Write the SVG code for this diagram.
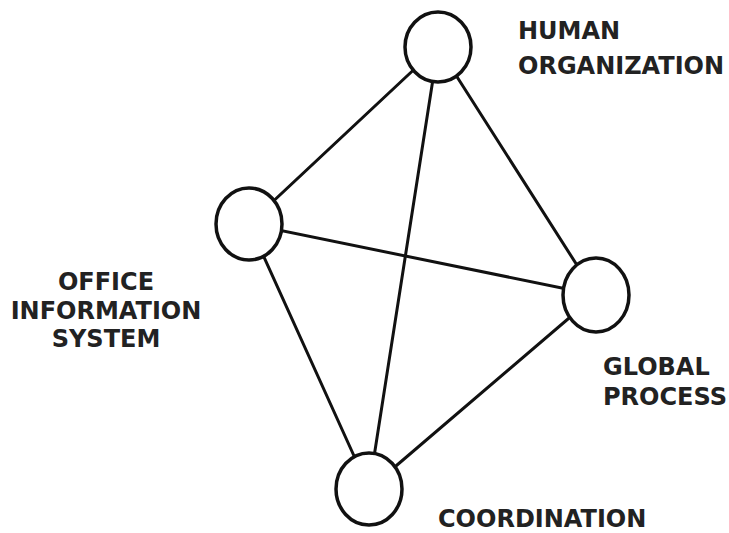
<svg xmlns="http://www.w3.org/2000/svg" width="729" height="533" viewBox="0 0 729 533">
<style>
.bg{fill:#ffffff}
.edge{stroke:#111;stroke-width:3;stroke-linecap:round;fill:none}
.node{fill:#ffffff;stroke:#111;stroke-width:3.5}
.lbl{font-family:"DejaVu Sans","Liberation Sans",sans-serif;font-weight:bold;font-size:24px;fill:#222}
</style>
<rect class="bg" x="0" y="0" width="729" height="533"/>
<g id="connectors">
<line class="edge" x1="438" y1="47" x2="249" y2="224"/>
<line class="edge" x1="438" y1="47" x2="596" y2="295"/>
<line class="edge" x1="438" y1="47" x2="369" y2="489"/>
<line class="edge" x1="249" y1="224" x2="596" y2="295"/>
<line class="edge" x1="249" y1="224" x2="369" y2="489"/>
<line class="edge" x1="596" y1="295" x2="369" y2="489"/>
</g>
<g id="human-organization">
<ellipse class="node" cx="438" cy="47" rx="33" ry="35"/>
<text class="lbl" x="518" y="39">HUMAN</text>
<text class="lbl" x="518" y="74">ORGANIZATION</text>
</g>
<g id="office-information-system">
<ellipse class="node" cx="249" cy="224" rx="33" ry="36"/>
<text class="lbl" x="106" y="290" text-anchor="middle">OFFICE</text>
<text class="lbl" x="106" y="319" text-anchor="middle">INFORMATION</text>
<text class="lbl" x="106" y="347" text-anchor="middle">SYSTEM</text>
</g>
<g id="global-process">
<ellipse class="node" cx="596" cy="295" rx="33" ry="37"/>
<text class="lbl" x="603" y="375">GLOBAL</text>
<text class="lbl" x="603" y="405">PROCESS</text>
</g>
<g id="coordination">
<ellipse class="node" cx="369" cy="489" rx="33" ry="36"/>
<text class="lbl" x="438" y="527">COORDINATION</text>
</g>
</svg>
